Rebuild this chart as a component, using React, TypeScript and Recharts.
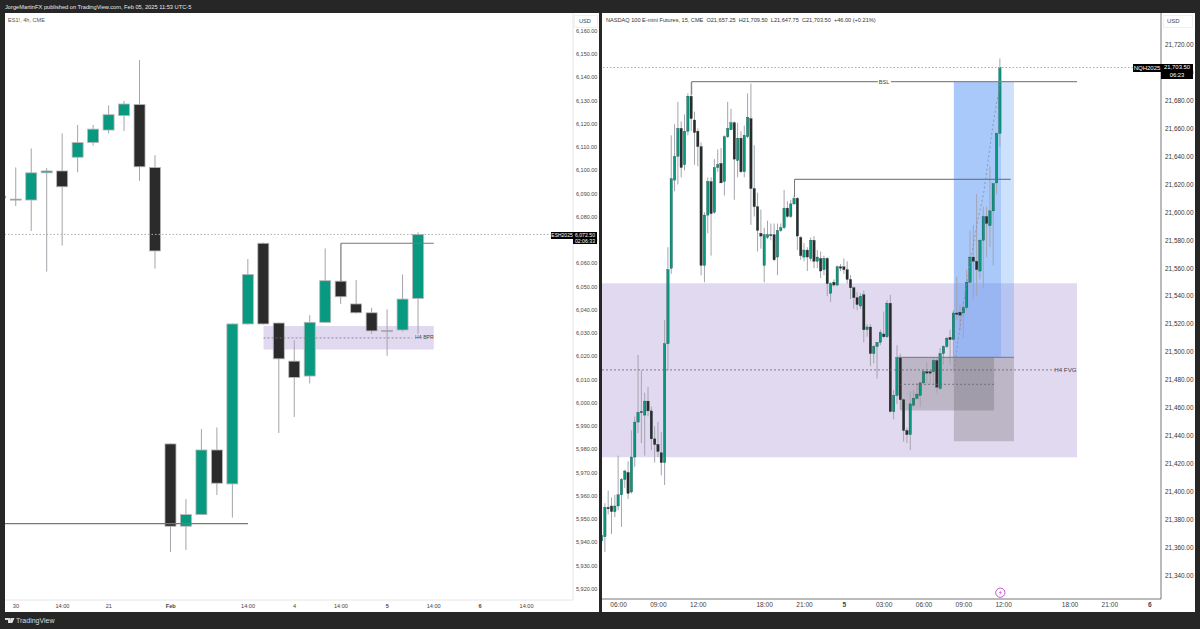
import React from 'react';
import { ComposedChart, Bar, Line, XAxis, YAxis, ReferenceArea, ReferenceLine, ReferenceDot } from 'recharts';

// [open, high, low, close]
const leftCandles: number[][] = [
  [6089, 6089.5, 6088, 6088.2],
  [6087.7, 6101.3, 6084.7, 6087.5],
  [6087.3, 6109.5, 6074, 6099],
  [6099, 6101, 6056.5, 6099.8],
  [6099.8, 6116, 6067.7, 6093],
  [6105.7, 6119.6, 6099.2, 6112],
  [6112, 6119.6, 6110.7, 6117.8],
  [6117.4, 6128, 6116, 6124],
  [6123.6, 6129.9, 6117, 6128.6],
  [6128.4, 6147.5, 6095.6, 6101.6],
  [6101.3, 6106.6, 6057.8, 6065.4],
  [5982.4, 5982.7, 5935.9, 5947],
  [5947, 5958.7, 5936.8, 5952],
  [5952, 5988.8, 5951.8, 5979.8],
  [5979.8, 5989.5, 5960.4, 5965.5],
  [5965.2, 6034.2, 5950.7, 6034],
  [6034, 6061.9, 6033.8, 6055.3],
  [6068.7, 6069, 6033.8, 6034],
  [6034.4, 6034.6, 5987.1, 6019],
  [6018, 6027, 5994, 6011],
  [6011.6, 6037.8, 6008.4, 6034.7],
  [6034.7, 6066.5, 6034.4, 6052.6],
  [6052.4, 6052.6, 6042.6, 6045.7],
  [6042.6, 6052.9, 6038.5, 6038.8],
  [6038.8, 6041, 6029.7, 6031],
  [6031.2, 6040.3, 6020.3, 6031],
  [6031.4, 6055.3, 6030.7, 6044.7],
  [6045, 6073.4, 6029.7, 6072.5],
];

const rightCandles: number[][] = [
  [21365, 21371, 21363, 21369], [21368, 21392, 21357, 21389], [21389, 21401, 21384, 21388],
  [21390, 21396, 21370, 21386], [21386, 21398, 21382, 21390], [21390, 21426, 21387, 21398],
  [21398, 21410, 21375, 21409], [21409, 21416, 21403, 21415], [21414, 21422, 21395, 21399],
  [21400, 21444, 21399, 21425], [21425, 21454, 21418, 21450], [21450, 21498, 21442, 21457],
  [21457.5, 21487, 21435, 21457], [21455, 21471, 21426, 21465], [21465, 21475, 21454, 21458],
  [21458, 21461, 21430, 21438], [21438, 21447, 21421, 21434], [21434, 21450, 21425, 21429],
  [21428, 21443, 21412, 21421], [21421, 21523, 21405, 21506], [21506, 21575, 21487, 21559],
  [21560, 21655, 21556, 21624], [21623, 21663, 21615, 21640], [21640, 21679, 21620, 21660],
  [21660, 21665, 21625, 21632], [21634, 21670, 21630, 21658], [21658, 21685, 21655, 21683],
  [21683, 21693, 21658, 21667], [21666, 21672, 21634, 21657], [21658, 21660, 21633, 21647],
  [21647, 21650, 21555, 21562], [21562, 21600, 21550, 21598], [21598, 21625, 21585, 21622],
  [21622, 21625, 21569, 21599], [21600, 21638, 21599, 21632], [21632, 21645, 21629, 21634],
  [21635, 21646, 21621, 21621], [21622, 21655, 21612, 21654], [21654, 21679, 21653, 21660],
  [21659, 21674, 21659, 21664], [21664, 21665, 21609, 21638], [21637, 21664, 21625, 21653],
  [21653, 21658, 21628, 21629], [21629, 21662, 21625, 21655], [21654, 21685, 21653, 21668],
  [21667, 21692, 21591, 21617], [21617, 21648, 21597, 21604], [21604, 21614, 21572, 21587],
  [21585, 21602, 21574, 21583], [21562, 21589, 21550, 21584], [21582, 21594, 21581, 21584],
  [21584, 21592, 21580, 21583.5], [21584, 21592, 21565, 21566], [21568, 21592, 21555, 21587],
  [21587, 21592, 21586, 21589], [21589, 21616, 21588, 21603], [21603, 21608, 21596, 21597],
  [21597, 21609, 21596, 21606], [21606, 21612, 21605, 21610], [21610, 21611, 21573, 21583],
  [21582, 21583, 21566, 21569], [21568, 21578, 21565, 21573], [21573, 21575, 21558, 21568],
  [21567, 21582, 21565, 21580], [21580, 21583, 21560, 21565], [21565, 21573, 21560, 21568],
  [21567, 21572, 21553, 21558], [21559, 21569, 21555, 21567], [21567, 21568, 21540, 21549],
  [21542, 21550, 21536, 21549], [21550, 21552, 21547, 21548], [21548, 21562, 21547, 21561],
  [21561, 21563, 21558, 21560], [21561, 21567, 21556, 21559], [21559, 21565, 21549, 21552],
  [21552, 21555, 21538, 21546], [21546, 21547, 21531, 21539], [21539, 21543, 21530, 21534],
  [21533, 21542, 21531, 21540], [21541, 21544, 21507, 21516], [21516, 21520, 21511, 21518],
  [21518, 21520, 21490, 21499], [21499, 21505, 21492, 21504], [21504, 21507, 21481, 21507],
  [21507, 21516, 21505, 21514], [21513, 21529, 21510, 21511], [21511, 21537, 21510, 21535],
  [21535, 21541, 21457, 21457.5], [21457.5, 21473, 21452, 21469], [21469, 21505, 21463, 21496],
  [21496, 21499, 21459, 21466], [21466, 21467, 21436, 21444], [21444, 21446, 21435, 21441],
  [21441, 21472, 21430, 21463], [21462, 21473, 21461, 21467], [21467, 21478, 21466, 21470],
  [21469, 21479, 21461, 21478], [21478, 21488, 21477, 21486], [21486, 21493, 21477, 21485],
  [21486, 21487, 21477, 21485], [21486, 21496, 21477, 21494], [21494, 21496, 21471, 21475],
  [21474, 21503, 21473, 21499], [21499, 21505, 21491, 21504], [21504, 21511, 21503, 21510],
  [21510.5, 21516, 21491, 21509], [21509, 21530, 21486, 21528], [21528, 21554, 21523, 21527],
  [21528.5, 21534, 21516, 21526.5], [21528, 21536, 21510, 21532], [21532, 21559, 21530, 21550],
  [21550, 21587, 21549, 21568], [21568, 21591, 21538, 21565], [21565, 21613, 21540, 21559],
  [21558, 21581, 21552, 21580], [21580, 21604, 21546, 21597], [21597, 21604, 21568, 21592],
  [21590.5, 21633, 21575, 21601], [21601, 21621, 21562, 21620.5], [21621, 21657, 21613, 21656.5],
  [21656.5, 21710, 21647, 21703.5],
];

const leftTickIndex = [0, 3, 6, 10, 15, 18, 21, 24, 27, 30, 33];
const leftTickLabels = ['30', '14:00', '21', 'Feb', '14:00', '4', '14:00', '5', '14:00', '6', '14:00'];
const rightTickIndex = [5, 17, 29, 49, 61, 73, 85, 97, 109, 121, 141, 153, 165];
const rightTickLabels = ['06:00', '09:00', '12:00', '18:00', '21:00', '5', '03:00', '06:00', '09:00', '12:00', '18:00', '21:00', '6'];
const leftPriceTicks = [5920, 5930, 5940, 5950, 5960, 5970, 5980, 5990, 6000, 6010, 6020, 6030, 6040, 6050, 6060, 6070, 6080, 6090, 6100, 6110, 6120, 6130, 6140, 6150, 6160];
const rightPriceTicks = [21340, 21360, 21380, 21400, 21420, 21440, 21460, 21480, 21500, 21520, 21540, 21560, 21580, 21600, 21620, 21640, 21660, 21680, 21700, 21720];
// dashed path of the position tool on the right pane
const trailIndex = [106, 109, 113, 115, 118, 120];
const trailPrice = [21487, 21537, 21592, 21614, 21666, 21693];
const boldLabels = ['Feb', '5', '6'];

const FONT = '"Liberation Sans", Arial, sans-serif';
const GREEN = '#089981';
const BLACK = '#2b2b2b';

const leftRows = leftCandles.map(([open, high, low, close], k) => ({ i: k - 1, open, high, low, close }));
const rightRows = rightCandles.map(([open, high, low, close], k) => {
  const t = trailIndex.indexOf(k);
  return { i: k, open, high, low, close, trail: t >= 0 ? trailPrice[t] : null };
});

const Candle = (props: any) => {
  const { x, y, width, height, payload, edge, edgeWidth, wick } = props;
  const { open, high, low, close } = payload;
  const cx = x + width / 2;
  const perUnit = height / (high - low);
  const top = y + (high - Math.max(open, close)) * perUnit;
  const h = Math.max(Math.abs(open - close) * perUnit, 1);
  return (
    <g>
      <line x1={cx} x2={cx} y1={y} y2={y + height} stroke={wick} strokeWidth={1} />
      <rect x={x} y={top} width={width} height={h} fill={close >= open ? GREEN : BLACK} stroke={edge} strokeWidth={edgeWidth} />
    </g>
  );
};

const TimeTick = (props: any) => {
  const { x, y, payload, index, labels, size } = props;
  const text = labels[index];
  return (
    <text x={x} y={y} textAnchor="middle" fontSize={size} fontFamily={FONT} fill="#444"
      fontWeight={boldLabels.includes(text) ? 700 : 400} data-v={payload.value}>
      {text}
    </text>
  );
};

const Bolt = (props: any) => (
  <g>
    <circle cx={props.cx} cy={props.cy} r={4.6} fill="#fff" stroke="#c850d8" strokeWidth={1} />
    <path d={`M${props.cx + 1.2} ${props.cy - 2.6}L${props.cx - 1.6} ${props.cy + 0.4}H${props.cx}L${props.cx - 1.2} ${props.cy + 2.6}L${props.cx + 1.6} ${props.cy - 0.4}H${props.cx}Z`} fill="#c850d8" />
  </g>
);

const money = (v: number) => v.toLocaleString('en-US', { minimumFractionDigits: 2, maximumFractionDigits: 2 });

const Tag = ({ x, y, w, h, size, lines }: { x: number; y: number; w: number; h: number; size: number; lines: string[] }) => (
  <div style={{ position: 'absolute', left: x, top: y, width: w, height: h, background: '#000', color: '#fff', fontFamily: FONT, fontSize: size, lineHeight: `${lines.length > 1 ? h / 2 : h}px`, textAlign: 'center', whiteSpace: 'nowrap', overflow: 'hidden' }}>
    {lines.map((l) => <div key={l}>{l}</div>)}
  </div>
);

const Txt = ({ x, y, size, color, children }: { x: number; y: number; size: number; color: string; children: React.ReactNode }) => (
  <div style={{ position: 'absolute', left: x, top: y, fontFamily: FONT, fontSize: size, color, lineHeight: '8px', whiteSpace: 'pre' }}>{children}</div>
);

const LeftPane = () => (
  <ComposedChart width={594} height={599} data={leftRows} margin={{ top: 0, right: 0, bottom: 0, left: 0 }}>
    <XAxis dataKey="i" type="number" domain={[-0.71, 36]} allowDataOverflow ticks={leftTickIndex} interval={0} height={12}
      stroke="#e6e6e6" tickLine={false} tick={<TimeTick labels={leftTickLabels} size={5.6} />} />
    <YAxis orientation="right" domain={[5915.27, 6167.74]} allowDataOverflow ticks={leftPriceTicks} interval={0} width={26}
      stroke="#e6e6e6" tickLine={false} tickSize={0} tickMargin={3} tickFormatter={money} tick={{ fontSize: 5.5, fill: '#444', fontFamily: FONT }} />
    <ReferenceArea x1={16} x2={27} y1={6023} y2={6033.1} fill="#e1d9f0" fillOpacity={1} stroke="none" />
    <ReferenceLine segment={[{ x: 16, y: 6028 }, { x: 25.6, y: 6028 }]} stroke="#777" strokeDasharray="2 2" strokeWidth={0.7} />
    <ReferenceLine y={6072.5} stroke="#aaa" strokeDasharray="1.5 2" strokeWidth={1} />
    <ReferenceLine segment={[{ x: -0.71, y: 5948.1 }, { x: 15, y: 5948.1 }]} stroke="#777" strokeWidth={1.2} />
    <ReferenceLine segment={[{ x: 21, y: 6068.7 }, { x: 27, y: 6068.7 }]} stroke="#777" strokeWidth={1.2} />
    <ReferenceLine segment={[{ x: 21, y: 6068.7 }, { x: 21, y: 6052.5 }]} stroke="#777" strokeWidth={1.2} />
    <Bar dataKey={(d: any) => [d.low, d.high]} barSize={11} isAnimationActive={false} shape={<Candle edge="#b8b8b8" edgeWidth={0.8} wick="#a4a4ac" />} />
    <ReferenceDot x={26.4} y={6028.4} r={0} stroke="none" fill="none" label={{ value: 'H4 BPR', fontSize: 5.2, fill: '#444', fontFamily: FONT }} />
  </ComposedChart>
);

const RightPane = () => (
  <ComposedChart width={593} height={599} data={rightRows} margin={{ top: 0, right: 0, bottom: 0, left: 0 }}>
    <XAxis dataKey="i" type="number" domain={[0, 168.4]} allowDataOverflow ticks={rightTickIndex} interval={0} height={13}
      stroke="#777" tickLine={false} tick={<TimeTick labels={rightTickLabels} size={6.6} />} />
    <YAxis orientation="right" domain={[21323.5, 21742.5]} allowDataOverflow ticks={rightPriceTicks} interval={0} width={34}
      stroke="#777" tickLine={false} tickSize={0} tickMargin={4} tickFormatter={money} tick={{ fontSize: 6.4, fill: '#333', fontFamily: FONT }} />
    <ReferenceArea x1={0} x2={143.1} y1={21424.8} y2={21549.3} fill="#e1d9f0" fillOpacity={1} stroke="none" />
    <ReferenceArea x1={106} x2={124.1} y1={21496.3} y2={21693.4} fill="#4d8ff5" fillOpacity={0.28} stroke="none" />
    <ReferenceArea x1={106} x2={120.2} y1={21496.3} y2={21693.4} fill="#4d8ff5" fillOpacity={0.28} stroke="none" />
    <ReferenceArea x1={106} x2={124.1} y1={21436.3} y2={21496.3} fill="#5a5a5a" fillOpacity={0.27} stroke="none" />
    <ReferenceArea x1={89.8} x2={118.1} y1={21458.2} y2={21496.3} fill="#5a5a5a" fillOpacity={0.27} stroke="none" />
    <ReferenceLine y={21703.5} stroke="#aaa" strokeDasharray="1.5 2" strokeWidth={1} />
    <ReferenceLine segment={[{ x: 0, y: 21487.3 }, { x: 136.4, y: 21487.3 }]} stroke="#666" strokeDasharray="2 2" strokeWidth={0.8} />
    <ReferenceLine segment={[{ x: 89.8, y: 21477 }, { x: 118.1, y: 21477 }]} stroke="#666" strokeDasharray="2 2" strokeWidth={0.8} />
    <ReferenceLine segment={[{ x: 88.9, y: 21496.3 }, { x: 124.1, y: 21496.3 }]} stroke="#777" strokeWidth={1} />
    <ReferenceLine segment={[{ x: 27, y: 21693.4 }, { x: 83.1, y: 21693.4 }]} stroke="#888" strokeWidth={1.2} />
    <ReferenceLine segment={[{ x: 87.05, y: 21693.4 }, { x: 143.1, y: 21693.4 }]} stroke="#888" strokeWidth={1.2} />
    <ReferenceLine segment={[{ x: 27, y: 21693.4 }, { x: 27, y: 21684 }]} stroke="#888" strokeWidth={1.2} />
    <ReferenceLine segment={[{ x: 58, y: 21623.6 }, { x: 123.1, y: 21623.6 }]} stroke="#666" strokeWidth={1} />
    <ReferenceLine segment={[{ x: 58, y: 21623.6 }, { x: 58, y: 21611 }]} stroke="#777" strokeWidth={1} />
    <Bar dataKey={(d: any) => [d.low, d.high]} barSize={2.4} isAnimationActive={false} shape={<Candle edge="#1d3b36" edgeWidth={0.3} wick="#a4a4ae" />} />
    <Line dataKey="trail" connectNulls dot={false} stroke="#7f8ba3" strokeWidth={0.8} strokeDasharray="2 2.5" isAnimationActive={false} />
    <ReferenceDot x={85} y={21693.4} r={0} stroke="none" fill="none" label={{ value: 'BSL', fontSize: 5.6, fill: '#444', fontFamily: FONT }} />
    <ReferenceDot x={139.6} y={21487.3} r={0} stroke="none" fill="none" label={{ value: 'H4 FVG', fontSize: 6.2, fill: '#444', fontFamily: FONT }} />
    <ReferenceDot x={120} y={21328} shape={<Bolt />} />
  </ComposedChart>
);

export default function App() {
  return (
    <div style={{ position: 'fixed', left: 0, top: 0, width: 1200, height: 629, background: '#262626', overflow: 'hidden' }}>
      <div style={{ position: 'absolute', left: 5, top: 13, width: 594, height: 599, background: '#fff' }}><LeftPane /></div>
      <div style={{ position: 'absolute', left: 602, top: 13, width: 593, height: 599, background: '#fff' }}><RightPane /></div>
      <Txt x={5} y={3} size={5.7} color="#e8e8e8">JorgeMartinFX published on TradingView.com, Feb 05, 2025 11:53 UTC-5</Txt>
      <Txt x={8} y={16} size={5.6} color="#555">ES1!, 4h, CME</Txt>
      <Txt x={606} y={16} size={5.6} color="#333">{'NASDAQ 100 E-mini Futures, 15, CME  O21,657.25  H21,709.50  L21,647.75  C21,703.50  +46.00 (+0.21%)'}</Txt>
      <div style={{ position: 'absolute', left: 574, top: 15, width: 22, height: 11, border: '1px solid #f0f0f0' }} />
      <div style={{ position: 'absolute', left: 1163, top: 15, width: 28, height: 11, border: '1px solid #f0f0f0' }} />
      <Txt x={579} y={17} size={5.6} color="#444">USD</Txt>
      <Txt x={1167} y={17} size={6} color="#444">USD</Txt>
      <Tag x={551} y={232} w={22} h={6.5} size={5} lines={['ESH2025']} />
      <Tag x={573} y={232} w={24} h={12} size={5.2} lines={['6,072.50', '02:06:33']} />
      <Tag x={1133} y={64} w={28} h={8} size={6} lines={['NQH2025']} />
      <Tag x={1161} y={64} w={32} h={15} size={5.9} lines={['21,703.50', '06:23']} />
      <svg style={{ position: 'absolute', left: 5, top: 617 }} width={10} height={8}>
        <path d="M0 1h5v5h-2v-3h-3zM5.5 1h4l-2.2 5h-2.8z" fill="#ddd" />
      </svg>
      <Txt x={16} y={617} size={7} color="#ddd">TradingView</Txt>
    </div>
  );
}
